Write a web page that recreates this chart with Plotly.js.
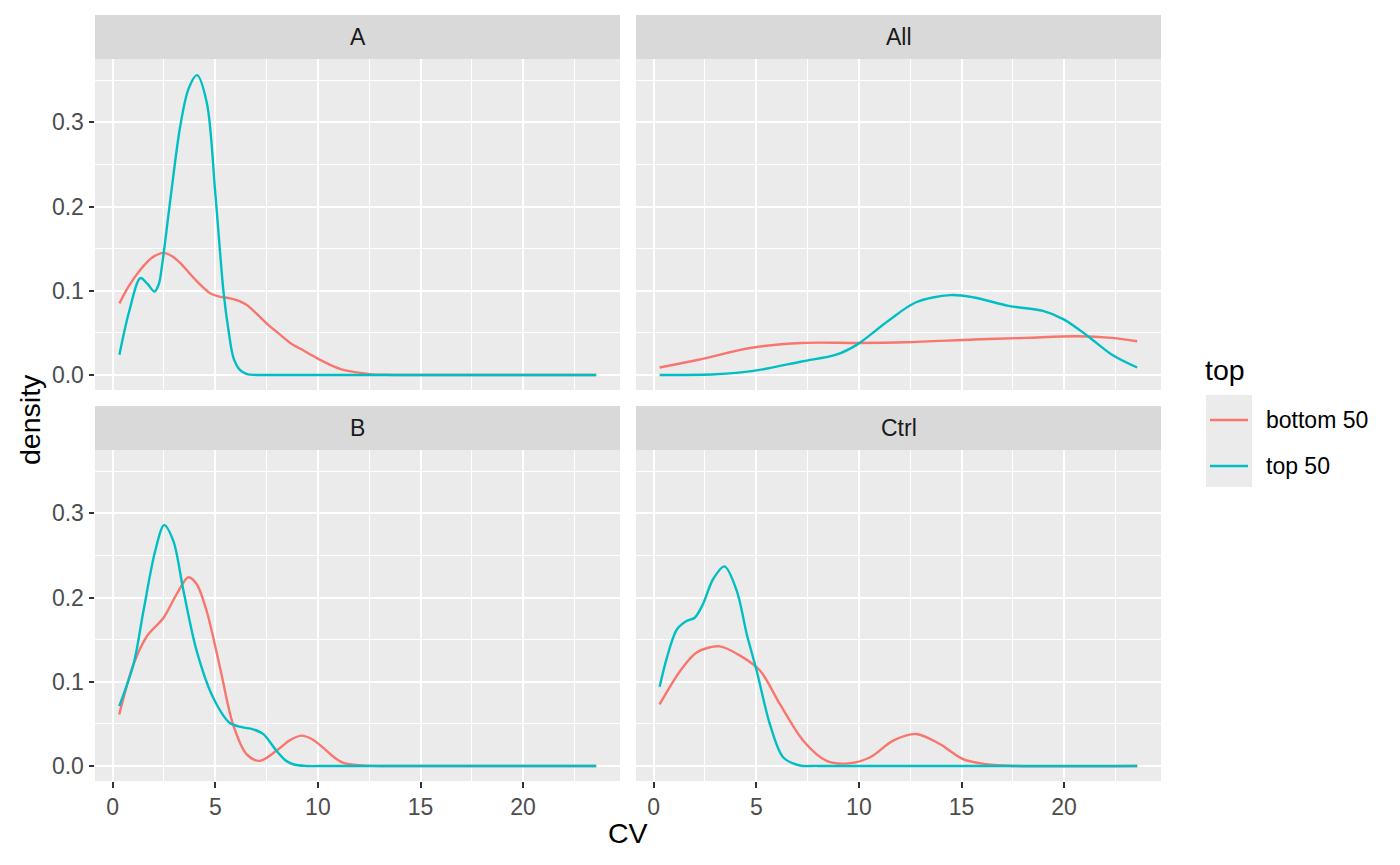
<!DOCTYPE html>
<html>
<head>
<meta charset="utf-8">
<script src="https://cdn.plot.ly/plotly-3.0.1.min.js"></script>
<style>body{margin:0;padding:0;background:#fff;}#chart{width:1400px;height:865px;}</style>
</head>
<body>
<div id="chart"></div>
<script>
// ---- data ----
const facets = ['A', 'All', 'B', 'Ctrl'];
const groups = ['bottom 50', 'top 50'];
const colors = ['#F8766D', '#00BFC4'];

// Facet A
const cvA_bottom   = [0.33, 0.8, 1.35, 1.9, 2.48, 2.9, 3.29, 3.7, 4.11, 4.75, 5.2, 5.73, 6.15, 6.54, 7.0, 7.51, 8.1, 8.65, 9.3, 9.95, 10.6, 11.24, 11.9, 12.54, 13.3, 14.5, 23.56];
const denA_bottom  = [0.085, 0.106, 0.125, 0.139, 0.145, 0.141, 0.133, 0.122, 0.111, 0.097, 0.093, 0.091, 0.088, 0.083, 0.073, 0.061, 0.049, 0.038, 0.029, 0.020, 0.012, 0.006, 0.003, 0.001, 0.0003, 0.0, 0.0];
const cvA_top      = [0.33, 0.8, 1.35, 1.7, 2.04, 2.25, 2.4, 2.81, 3.29, 3.7, 4.11, 4.59, 5.0, 5.2, 5.4, 5.65, 5.89, 6.2, 6.54, 7.0, 8.0, 23.56];
const denA_top     = [0.024, 0.075, 0.115, 0.108, 0.099, 0.108, 0.129, 0.208, 0.295, 0.340, 0.356, 0.323, 0.216, 0.156, 0.099, 0.052, 0.020, 0.006, 0.001, 0.0, 0.0, 0.0];

// Facet All
const cvAll_bottom  = [0.29, 2.18, 4.7, 7.22, 9.91, 12.26, 15.61, 18.13, 20.65, 22.33, 23.56];
const denAll_bottom = [0.0088, 0.018, 0.032, 0.038, 0.038, 0.0388, 0.042, 0.044, 0.046, 0.044, 0.040];
const cvAll_top     = [0.29, 3.02, 4.87, 7.22, 8.9, 9.91, 11.42, 12.76, 14.44, 15.61, 17.29, 18.97, 19.98, 21.16, 22.33, 23.56];
const denAll_top    = [0.0, 0.0008, 0.0048, 0.016, 0.024, 0.036, 0.064, 0.086, 0.0948, 0.092, 0.082, 0.076, 0.066, 0.046, 0.024, 0.0088];

// Facet B
const cvB_bottom   = [0.32, 1.02, 1.67, 2.48, 3.12, 3.69, 4.09, 4.58, 5.23, 5.87, 6.52, 7.17, 7.98, 8.6, 9.19, 9.7, 10.24, 10.7, 11.21, 12.18, 13.0, 23.56];
const denB_bottom  = [0.061, 0.121, 0.154, 0.176, 0.204, 0.224, 0.216, 0.184, 0.117, 0.049, 0.014, 0.006, 0.018, 0.030, 0.036, 0.032, 0.022, 0.012, 0.004, 0.0005, 0.0, 0.0];
const cvB_top      = [0.32, 1.02, 1.5, 2.07, 2.51, 2.96, 3.45, 4.09, 4.9, 5.71, 6.3, 6.84, 7.33, 7.98, 8.4, 8.79, 9.43, 10.5, 23.56];
const denB_top     = [0.071, 0.121, 0.184, 0.255, 0.286, 0.267, 0.208, 0.137, 0.081, 0.051, 0.046, 0.0435, 0.038, 0.018, 0.007, 0.002, 0.0, 0.0, 0.0];

// Facet Ctrl
const cvCtrl_bottom  = [0.29, 1.3, 2.11, 3.21, 4.21, 5.19, 6.16, 7.29, 8.43, 9.48, 10.53, 11.67, 12.8, 13.94, 15.07, 16.21, 17.5, 23.56];
const denCtrl_bottom = [0.073, 0.113, 0.135, 0.142, 0.131, 0.113, 0.073, 0.030, 0.006, 0.003, 0.010, 0.030, 0.038, 0.026, 0.008, 0.002, 0.0, 0.0];
const cvCtrl_top     = [0.29, 0.65, 1.13, 1.6, 2.0, 2.4, 2.9, 3.45, 4.05, 4.54, 5.02, 5.67, 6.32, 7.13, 8.0, 23.56];
const denCtrl_top    = [0.094, 0.129, 0.162, 0.172, 0.176, 0.192, 0.222, 0.237, 0.208, 0.156, 0.113, 0.049, 0.010, 0.0005, 0.0, 0.0];

const seriesX = {A: [cvA_bottom, cvA_top], All: [cvAll_bottom, cvAll_top], B: [cvB_bottom, cvB_top], Ctrl: [cvCtrl_bottom, cvCtrl_top]};
const seriesY = {A: [denA_bottom, denA_top], All: [denAll_bottom, denAll_top], B: [denB_bottom, denB_top], Ctrl: [denCtrl_bottom, denCtrl_top]};

const xTickVals = [0, 5, 10, 15, 20];
const yTickVals = [0.0, 0.1, 0.2, 0.3];
const yTickText = ['0.0', '0.1', '0.2', '0.3'];

// ---- layout geometry (pixels) ----
const W = 1400, H = 865;
const colPx = [[95, 620], [636, 1161]];
const rowPx = [[59, 390], [450, 781]];
const stripH = 44;
const fx = p => p / W;
const fy = p => 1 - p / H;
const FONT = 'Liberation Sans, Arial, Helvetica, sans-serif';
const SMALL = 23, BIG = 28.5;

const traces = [];
facets.forEach((f, i) => {
  const ax = i === 0 ? '' : String(i + 1);
  groups.forEach((g, j) => {
    traces.push({
      x: seriesX[f][j], y: seriesY[f][j],
      type: 'scatter', mode: 'lines',
      line: {color: colors[j], width: 2.4, shape: 'spline', smoothing: 0.9},
      name: g, legendgroup: g, showlegend: false,
      xaxis: 'x' + ax, yaxis: 'y' + ax,
      hoverinfo: 'x+y+name'
    });
  });
});

const layout = {
  width: W, height: H,
  paper_bgcolor: '#FFFFFF', plot_bgcolor: '#EBEBEB',
  margin: {l: 0, r: 0, t: 0, b: 0},
  font: {family: FONT, color: '#000'},
  showlegend: false,
  shapes: [],
  annotations: []
};

facets.forEach((f, i) => {
  const r = Math.floor(i / 2), c = i % 2;
  const ax = i === 0 ? '' : String(i + 1);
  const bottom = r === 1, left = c === 0;
  layout['xaxis' + ax] = {
    domain: [fx(colPx[c][0]), fx(colPx[c][1])],
    range: [-0.86, 24.72],
    anchor: 'y' + ax,
    tickvals: xTickVals,
    showticklabels: bottom,
    ticks: bottom ? 'outside' : '', ticklen: 5.5, tickwidth: 2, tickcolor: '#333333',
    tickfont: {size: SMALL, color: '#4D4D4D'},
    showgrid: true, gridcolor: '#FFFFFF', gridwidth: 2,
    minor: {dtick: 2.5, tick0: 0, showgrid: true, gridcolor: '#FFFFFF', gridwidth: 1, ticks: ''},
    zeroline: false, showline: false, fixedrange: true
  };
  layout['yaxis' + ax] = {
    domain: [fy(rowPx[r][1]), fy(rowPx[r][0])],
    range: [-0.0179, 0.3752],
    anchor: 'x' + ax,
    tickvals: yTickVals, ticktext: yTickText,
    showticklabels: left,
    ticks: left ? 'outside' : '', ticklen: 5.5, tickwidth: 2, tickcolor: '#333333',
    tickfont: {size: SMALL, color: '#4D4D4D'},
    showgrid: true, gridcolor: '#FFFFFF', gridwidth: 2,
    minor: {dtick: 0.05, tick0: 0, showgrid: true, gridcolor: '#FFFFFF', gridwidth: 1, ticks: ''},
    zeroline: false, showline: false, fixedrange: true
  };
  // strip
  layout.shapes.push({
    type: 'rect', xref: 'paper', yref: 'paper', layer: 'below',
    x0: fx(colPx[c][0]), x1: fx(colPx[c][1]),
    y0: fy(rowPx[r][0] - stripH), y1: fy(rowPx[r][0]),
    fillcolor: '#D9D9D9', line: {width: 0}
  });
  layout.annotations.push({
    text: f, xref: 'paper', yref: 'paper', showarrow: false,
    x: fx((colPx[c][0] + colPx[c][1]) / 2), y: fy(rowPx[r][0] - stripH / 2),
    xanchor: 'center', yanchor: 'middle',
    font: {size: SMALL, color: '#1A1A1A'}
  });
});

// legend (drawn manually to match ggplot layout)
layout.shapes.push({
  type: 'rect', xref: 'paper', yref: 'paper', layer: 'below',
  x0: fx(1206), x1: fx(1252), y0: fy(487), y1: fy(395),
  fillcolor: '#EBEBEB', line: {width: 0}
});
layout.annotations.push({
  text: 'top', xref: 'paper', yref: 'paper', showarrow: false,
  x: fx(1203), y: fy(370), xanchor: 'left', yanchor: 'middle',
  font: {size: BIG, color: '#000'}
});
const legendY = [420, 466];
groups.forEach((g, j) => {
  layout.shapes.push({
    type: 'line', xref: 'paper', yref: 'paper',
    x0: fx(1210), x1: fx(1248), y0: fy(legendY[j]), y1: fy(legendY[j]),
    line: {color: colors[j], width: 2.4}
  });
  layout.annotations.push({
    text: g, xref: 'paper', yref: 'paper', showarrow: false,
    x: fx(1264), y: fy(legendY[j]), xanchor: 'left', yanchor: 'middle',
    font: {size: SMALL, color: '#000'}
  });
});

// axis titles
layout.annotations.push({
  text: 'CV', xref: 'paper', yref: 'paper', showarrow: false,
  x: fx(628), y: fy(833), xanchor: 'center', yanchor: 'middle',
  font: {size: BIG, color: '#000'}
});
layout.annotations.push({
  text: 'density', xref: 'paper', yref: 'paper', showarrow: false,
  x: fx(30), y: fy(420), xanchor: 'center', yanchor: 'middle', textangle: -90,
  font: {size: BIG, color: '#000'}
});

Plotly.newPlot('chart', traces, layout, {displayModeBar: false, staticPlot: true});
</script>
</body>
</html>
